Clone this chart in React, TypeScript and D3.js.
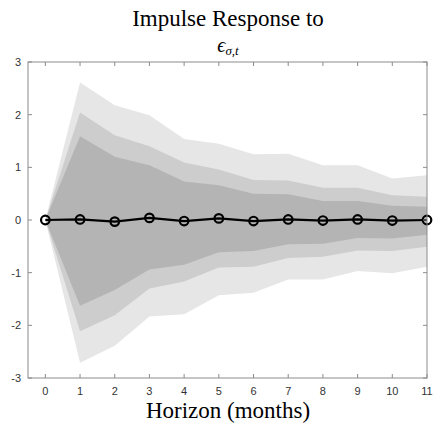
import React from "react";
import * as d3 from "d3";

const horizons = [0, 1, 2, 3, 4, 5, 6, 7, 8, 9, 10, 11];
const response = [0, 0.01, -0.03, 0.04, -0.02, 0.03, -0.02, 0.01, -0.01, 0.01, -0.01, 0];
const outerUpper = [0, 2.61, 2.18, 1.99, 1.54, 1.45, 1.25, 1.26, 1.04, 1.04, 0.79, 0.85];
const outerLower = [0, -2.71, -2.39, -1.83, -1.79, -1.43, -1.38, -1.13, -1.13, -0.97, -1.01, -0.89];
const midUpper = [0, 2.04, 1.61, 1.4, 1.09, 0.96, 0.76, 0.75, 0.61, 0.61, 0.47, 0.44];
const midLower = [0, -2.11, -1.81, -1.3, -1.17, -0.9, -0.89, -0.72, -0.7, -0.58, -0.59, -0.51];
const innerUpper = [0, 1.59, 1.2, 1.04, 0.73, 0.66, 0.5, 0.49, 0.36, 0.36, 0.27, 0.25];
const innerLower = [0, -1.63, -1.33, -0.94, -0.85, -0.61, -0.59, -0.46, -0.45, -0.34, -0.35, -0.28];
const yTicks = [-3, -2, -1, 0, 1, 2, 3];
const xTicks = [0, 1, 2, 3, 4, 5, 6, 7, 8, 9, 10, 11];

const W = 440;
const H = 430;
const L = 28, R = 427, T = 62, B = 378;

export default function App() {
  const x = d3.scaleLinear().domain([-0.5, 11]).range([L, R]);
  const y = d3.scaleLinear().domain([-3, 3]).range([B, T]);

  const band = (up: number[], lo: number[]) =>
    d3
      .area<number>()
      .x((d) => x(d))
      .y0((_, i) => y(lo[i]))
      .y1((_, i) => y(up[i]))(horizons) || "";

  const line = d3
    .line<number>()
    .x((d) => x(d))
    .y((_, i) => y(response[i]))(horizons) || "";

  const axisColor = "#8c8c8c";
  const tickLen = 4;

  return (
    <svg width={W} height={H} style={{ position: "absolute", left: 0, top: 0 }}>
      <rect x={0} y={0} width={W} height={H} fill="#fff" />
      <path d={band(outerUpper, outerLower)} fill="#e6e6e6" />
      <path d={band(midUpper, midLower)} fill="#cdcdcd" />
      <path d={band(innerUpper, innerLower)} fill="#b4b4b4" />
      <path d={line} fill="none" stroke="#000" strokeWidth={2.2} />
      {horizons.map((h, i) => (
        <circle key={h} cx={x(h)} cy={y(response[i])} r={4.3} fill="none" stroke="#000" strokeWidth={2.2} />
      ))}
      <rect x={L} y={T} width={R - L} height={B - T} fill="none" stroke={axisColor} strokeWidth={1} />
      {xTicks.map((t) => (
        <g key={"x" + t}>
          <line x1={x(t)} x2={x(t)} y1={B} y2={B - tickLen} stroke={axisColor} />
          <line x1={x(t)} x2={x(t)} y1={T} y2={T + tickLen} stroke={axisColor} />
          <text x={x(t)} y={395} textAnchor="middle" fontFamily="Liberation Sans" fontSize={11} fill="#333">
            {t}
          </text>
        </g>
      ))}
      {yTicks.map((t) => (
        <g key={"y" + t}>
          <line x1={L} x2={L + tickLen} y1={y(t)} y2={y(t)} stroke={axisColor} />
          <line x1={R} x2={R - tickLen} y1={y(t)} y2={y(t)} stroke={axisColor} />
          <text x={21} y={y(t) + 4} textAnchor="end" fontFamily="Liberation Sans" fontSize={11} fill="#333">
            {t}
          </text>
        </g>
      ))}
      <text x={228} y={26} textAnchor="middle" fontFamily="Liberation Serif" fontSize={23} fill="#000">
        Impulse Response to
      </text>
      <text x={228} y={52} textAnchor="middle" fontFamily="Liberation Serif" fontSize={20} fill="#000">
        <tspan fontStyle="italic">ϵ</tspan>
        <tspan fontStyle="italic" fontSize={13} dy={3}>σ,t</tspan>
      </text>
      <text x={228} y={418} textAnchor="middle" fontFamily="Liberation Serif" fontSize={23} fill="#000">
        Horizon (months)
      </text>
    </svg>
  );
}
